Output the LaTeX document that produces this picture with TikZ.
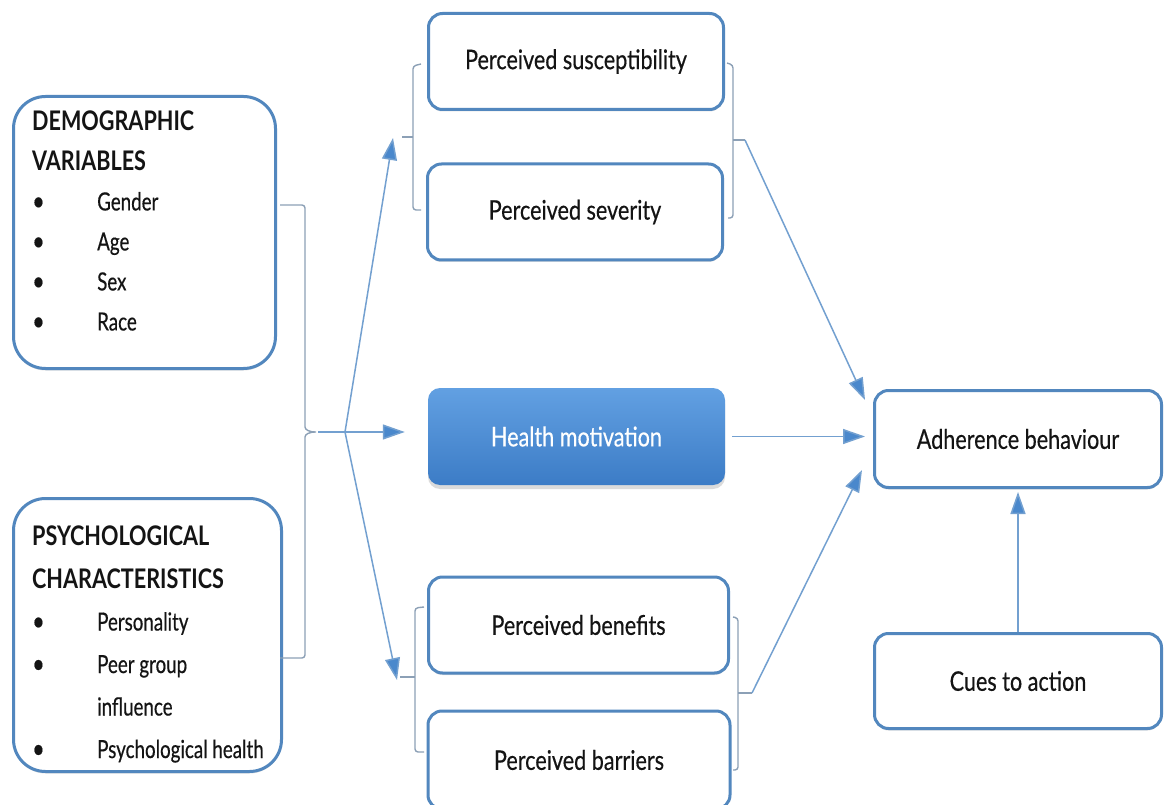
\documentclass[tikz,border=0pt]{standalone}
\usepackage{fontspec}
\setmainfont{Lato}[FakeStretch=0.8, UprightFeatures={FakeBold=0.4}]
\newfontfamily\listfont{Lato}[FakeStretch=0.75, UprightFeatures={FakeBold=0.4}]
\usetikzlibrary{arrows.meta,shadows}
\definecolor{boxblue}{RGB}{82,135,190}
\definecolor{linecol}{RGB}{115,160,208}
\definecolor{headcol}{RGB}{74,136,204}
\definecolor{bracecol}{RGB}{140,160,182}
\definecolor{hmtop}{RGB}{98,160,226}
\definecolor{hmbot}{RGB}{60,124,198}
\definecolor{txt}{RGB}{20,20,20}
\newcommand\itm[1]{\makebox[65pt][l]{\textbullet}{\listfont\fontsize{25}{40}\selectfont #1}}
\begin{document}
\begin{tikzpicture}[x=1pt,y=-1pt,
  pbox/.style={draw=boxblue, line width=3pt, rounded corners=14pt, fill=white,
    minimum width=#1, minimum height=96pt, text=txt,
    font=\fontsize{27}{32}\selectfont,
    drop shadow={shadow xshift=0pt, shadow yshift=-2pt, opacity=0.12, fill=black}},
  bigbox/.style={draw=boxblue, line width=3pt, rounded corners=32pt, fill=white,
    drop shadow={shadow xshift=0pt, shadow yshift=-2pt, opacity=0.12, fill=black}},
  listtext/.style={anchor=north west, inner sep=0pt, align=left, text=txt},
  brace/.style={draw=bracecol, line width=1.4pt, rounded corners=3pt},
  conn/.style={draw=linecol, line width=1.5pt},
  arr/.style={conn, -{Triangle[length=22pt,width=15pt,fill=headcol]}},
]
\useasboundingbox (0,0) rectangle (1168,805);
\fill[white] (0,0) rectangle (1168,805);

% left boxes
\node[bigbox, minimum width=262pt, minimum height=272pt] (demo) at (144.5,232.5) {};
\node[listtext, font=\fontsize{27}{40}\selectfont] (demotext) at (32,110.5)
  {\textbf{DEMOGRAPHIC}\\\textbf{VARIABLES}\\\itm{Gender}\\\itm{Age}\\\itm{Sex}\\\itm{Race}};
\node[bigbox, minimum width=268pt, minimum height=273pt] (psych) at (147.5,635) {};
\node[listtext, font=\fontsize{27}{42.5}\selectfont] (psychtext) at (32,525.6)
  {\textbf{PSYCHOLOGICAL}\\\textbf{CHARACTERISTICS}\\\itm{Personality}\\\itm{Peer group}\\\hspace*{65pt}{\listfont\fontsize{25}{40}\selectfont influence}\\\itm{Psychological health}};

% middle column
\node[pbox=295pt] (sus) at (576,61.5) {Perceived susceptibility};
\node[pbox=295pt] (sev) at (575,212) {Perceived severity};
\node[draw=none, rounded corners=12pt, minimum width=297pt, minimum height=97pt,
  top color=hmtop, bottom color=hmbot, text=white, font=\fontsize{27}{32}\selectfont,
  drop shadow={shadow xshift=0pt, shadow yshift=-4pt, opacity=0.2, fill=black!70}]
  (hm) at (576.5,436.5) {Health motivation};
\node[pbox=300pt] (ben) at (578.5,625) {Perceived benefits};
\node[pbox=302pt, minimum height=98pt] (bar) at (579,760) {Perceived barriers};

% right column
\node[pbox=287pt, minimum height=97pt] (adh) at (1018,439) {Adherence behaviour};
\node[pbox=287pt, minimum height=95pt] (cues) at (1018,681) {Cues to action};

% big left brace
\coordinate (bTip) at (318,432);
\coordinate (fan) at (345,432);
\draw[brace] (280,205) -- (305,205) -- (305,424)
  .. controls (305,430) and (310,432) .. (bTip)
  .. controls (310,432) and (305,434) .. (305,440) -- (305,658) -- (280,658);
\draw[conn] (bTip) -- (fan);

% pair brackets
\coordinate (tlStub) at (402,137);
\coordinate (trStub) at (745,140);
\coordinate (blStub) at (400,677);
\coordinate (brStub) at (752,693);
\draw[brace] (421,64) -- (413,66) -- (413,210) -- (421,210);
\draw[brace] (tlStub) -- (413,137);
\draw[brace] (727,63) -- (733,65) -- (733,218) -- (728,218);
\draw[brace] (733,140) -- (trStub);
\draw[brace] (424,607) -- (415,608) -- (415,752) -- (424,752);
\draw[brace] (blStub) -- (415,677);
\draw[brace] (733,617) -- (738,618) -- (738,770) -- (733,770);
\draw[brace] (738,693) -- (brStub);

% arrows from the fan point
\coordinate (tlTip) at (393,138);
\coordinate (blTip) at (397,680);
\draw[arr] (fan) -- (tlTip);
\draw[arr, shorten >=23pt] (fan) -- (fan -| hm.west);
\draw[arr] (fan) -- (blTip);

% arrows into adherence behaviour
\coordinate (aTipT) at (865,400);
\coordinate (aTipB) at (862,470);
\draw[arr] (trStub) -- (aTipT);
\draw[arr, shorten <=7pt, shorten >=8pt] (hm.east) -- (hm.east -| adh.west);
\draw[arr] (brStub) -- (aTipB);
\draw[arr, shorten >=3pt] (cues.north) -- (adh.south);
\end{tikzpicture}
\end{document}
